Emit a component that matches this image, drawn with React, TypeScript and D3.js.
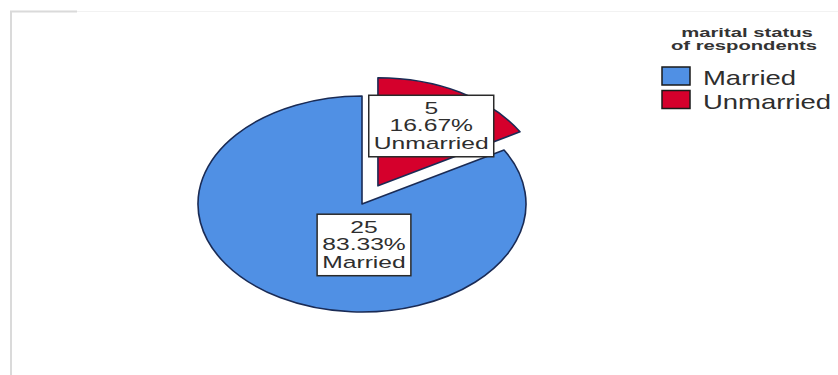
import React, { useEffect, useRef } from "react";
import * as d3 from "d3";

const categories = ["Married", "Unmarried"];
const counts = [25, 5];
const colors = ["#5090e4", "#d5002c"];
const legendTitle = ["marital status", "of respondents"];

const W = 838;
const H = 375;

export default function App() {
  const ref = useRef<SVGSVGElement>(null);

  useEffect(() => {
    const svg = d3.select(ref.current);
    svg.selectAll("*").remove();

    // frame lines
    svg.append("line").attr("x1", 77).attr("x2", W).attr("y1", 11.5).attr("y2", 11.5)
      .attr("stroke", "#f2f2f2").attr("stroke-width", 1);
    svg.append("line").attr("x1", 10).attr("x2", 77).attr("y1", 11.5).attr("y2", 11.5)
      .attr("stroke", "#dadada").attr("stroke-width", 2);
    svg.append("line").attr("x1", 11).attr("x2", 11).attr("y1", 11).attr("y2", H)
      .attr("stroke", "#dadada").attr("stroke-width", 2);

    const total = d3.sum(counts);
    const cx = 362, cy = 204, ry = 108, rx = 164;
    const sx = rx / ry;
    const explode = 21;

    const start = (2 * Math.PI * counts[1]) / total;
    const pie = d3.pie<number>().sort(null).startAngle(start).endAngle(start + 2 * Math.PI);
    const arcs = pie(counts);
    const arc = d3.arc<d3.PieArcDatum<number>>().innerRadius(0).outerRadius(ry);

    const g = svg.append("g").attr("transform", `translate(${cx},${cy}) scale(${sx},1)`);
    arcs.forEach((a, i) => {
      const mid = (a.startAngle + a.endAngle) / 2;
      const off = i === 1 ? explode : 0;
      const dx = Math.sin(mid) * off;
      const dy = -Math.cos(mid) * off;
      g.append("path")
        .attr("d", arc(a) as string)
        .attr("transform", `translate(${dx},${dy})`)
        .attr("fill", colors[i])
        .attr("stroke", "#1a2b55")
        .attr("stroke-width", 1.6)
        .attr("vector-effect", "non-scaling-stroke")
        .attr("stroke-linejoin", "round");
    });

    // labels
    const fs = 17;
    const stretch = 1.45;
    const lineH = 17.5;
    arcs.forEach((a, i) => {
      const mid = (a.startAngle + a.endAngle) / 2;
      let lx: number, ly: number;
      if (i === 1) {
        const off = explode;
        const vx = cx + Math.sin(mid) * off * sx;
        const vy = cy - Math.cos(mid) * off;
        const f = 0.65;
        lx = vx + Math.sin(mid) * rx * f;
        ly = vy - Math.cos(mid) * ry * f;
      } else {
        lx = cx + 2;
        ly = cy + ry * 0.37;
      }
      const lines = [
        String(counts[i]),
        ((counts[i] / total) * 100).toFixed(2) + "%",
        categories[i],
      ];
      const lg = svg.append("g").attr("transform", `translate(${lx},${ly})`);
      const rect = lg.append("rect").attr("fill", "#fff").attr("stroke", "#2a2a2a").attr("stroke-width", 1.5);
      const tg = lg.append("g").attr("transform", `scale(${stretch},1)`);
      lines.forEach((t, k) => {
        tg.append("text")
          .attr("x", 0)
          .attr("y", (k - 1) * lineH + fs * 0.36)
          .attr("text-anchor", "middle")
          .attr("font-family", "Liberation Sans, Arial, sans-serif")
          .attr("font-size", fs)
          .attr("fill", "#2e2e2e")
          .text(t);
      });
      const bb = (tg.node() as SVGGElement).getBBox();
      const w = bb.width * stretch + 10;
      const h = 3 * lineH + 9;
      rect.attr("x", -w / 2).attr("y", -h / 2 + 1).attr("width", w).attr("height", h);
    });

    // legend
    const leg = svg.append("g");
    legendTitle.forEach((t, k) => {
      leg.append("g")
        .attr("transform", `translate(${747 - k * 3},${36.5 + k * 13}) scale(1.62,1)`)
        .append("text")
        .attr("text-anchor", "middle")
        .attr("font-family", "Liberation Sans, Arial, sans-serif")
        .attr("font-weight", "bold")
        .attr("font-size", 12.5)
        .attr("fill", "#333")
        .text(t);
    });
    categories.forEach((c, i) => {
      const y0 = 67 + i * 23.5;
      leg.append("rect")
        .attr("x", 662).attr("y", y0).attr("width", 28).attr("height", 18)
        .attr("fill", colors[i]).attr("stroke", "#1a1a1a").attr("stroke-width", 1.5);
      leg.append("g")
        .attr("transform", `translate(703,${y0 + 18}) scale(1.34,1)`)
        .append("text")
        .attr("font-family", "Liberation Sans, Arial, sans-serif")
        .attr("font-size", 20.5)
        .attr("fill", "#2e2e2e")
        .text(c);
    });
  }, []);

  return (
    <svg
      ref={ref}
      width={W}
      height={H}
      style={{ position: "absolute", left: 0, top: 0, background: "#fff", display: "block" }}
    />
  );
}
